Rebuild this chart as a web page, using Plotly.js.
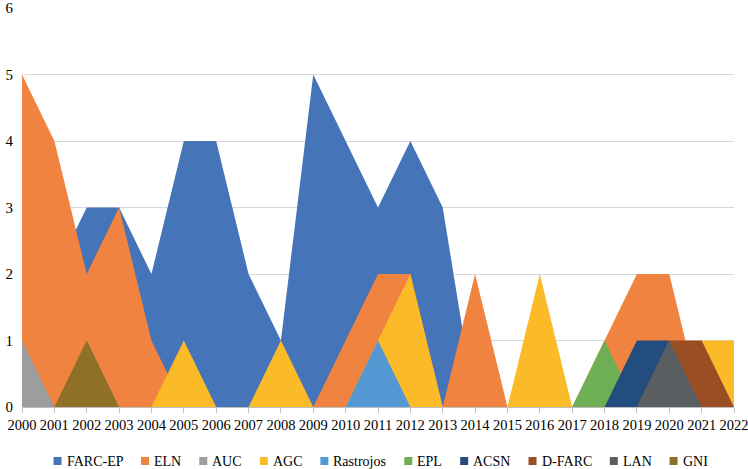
<!DOCTYPE html>
<html>
<head>
<meta charset="utf-8">
<script src="https://cdn.plot.ly/plotly-3.0.1.min.js"></script>
</head>
<body style="margin:0">
<div id="chart" style="width:748px;height:469px"></div>
<script>
// years on the x axis
var years = [2000,2001,2002,2003,2004,2005,2006,2007,2008,2009,2010,2011,
             2012,2013,2014,2015,2016,2017,2018,2019,2020,2021,2022];

// counts per group
var farcEp    = [2,2,3,3,2,4,4,2,1,5,4,3,4,3,0,0,0,0,0,0,0,0,0];
var eln       = [5,4,2,3,1,0,0,0,0,0,1,2,2,0,2,0,0,0,1,2,2,0,0];
var auc       = [1,0,0,0,0,0,0,0,0,0,0,0,0,0,0,0,0,0,0,0,0,0,0];
var agc       = [0,0,0,0,0,1,0,0,1,0,0,1,2,0,0,0,2,0,0,0,0,1,1];
var rastrojos = [0,0,0,0,0,0,0,0,0,0,0,1,0,0,0,0,0,0,0,0,0,0,0];
var epl       = [0,0,0,0,0,0,0,0,0,0,0,0,0,0,0,0,0,0,1,0,0,0,0];
var acsn      = [0,0,0,0,0,0,0,0,0,0,0,0,0,0,0,0,0,0,0,1,1,0,0];
var dFarc     = [0,0,0,0,0,0,0,0,0,0,0,0,0,0,0,0,0,0,0,0,1,1,0];
var lan       = [0,0,0,0,0,0,0,0,0,0,0,0,0,0,0,0,0,0,0,0,1,0,0];
var gni       = [0,0,1,0,0,0,0,0,0,0,0,0,0,0,0,0,0,0,0,0,0,0,0];

var names  = ["FARC-EP","ELN","AUC","AGC","Rastrojos","EPL","ACSN","D-FARC","LAN","GNI"];
var series = [farcEp, eln, auc, agc, rastrojos, epl, acsn, dFarc, lan, gni];
var colors = ["#4674B8","#F0833F","#9B9D9E","#FBBB29","#5498D3",
              "#6EAF55","#234D7F","#994E24","#5B5E60","#8E7026"];

var W = 748, H = 469;
var mar = {l: 22, r: 14, t: 8, b: 62};
var plotW = W - mar.l - mar.r;
var plotH = H - mar.t - mar.b;
var serif = "Times New Roman";

var data = [];
for (var i = 0; i < series.length; i++) {
    data.push({
        x: years,
        y: series[i],
        name: names[i],
        type: "scatter",
        mode: "lines",
        fill: "tozeroy",
        fillcolor: colors[i],
        line: {width: 0, color: colors[i]},
        showlegend: false
    });
}

// legend drawn by hand so it stays on one row like the original
var legFont = 14;
var ctx = document.createElement("canvas").getContext("2d");
ctx.font = legFont + "px 'Times New Roman'";
var sq = 8, sqGap = 4, itemGap = 19;
var widths = names.map(function(n){ return ctx.measureText(n).width; });
var total = 0;
widths.forEach(function(w, k){ total += sq + sqGap + w + (k < widths.length-1 ? itemGap : 0); });
var startPx = 380 - total/2;
var legCy = 461;
function px2x(px){ return (px - mar.l) / plotW; }
function py2y(py){ return (H - mar.b - py) / plotH; }

var shapes = [], annotations = [];
var cur = startPx;
for (var k = 0; k < names.length; k++) {
    shapes.push({
        type: "rect", xref: "paper", yref: "paper",
        x0: px2x(cur), x1: px2x(cur + sq),
        y0: py2y(legCy + sq/2), y1: py2y(legCy - sq/2),
        fillcolor: colors[k], line: {width: 0}
    });
    annotations.push({
        xref: "paper", yref: "paper",
        x: px2x(cur + sq + sqGap - 1), y: py2y(legCy),
        xanchor: "left", yanchor: "middle",
        text: names[k], showarrow: false,
        font: {family: serif, size: legFont, color: "#000"}
    });
    cur += sq + sqGap + widths[k] + itemGap;
}

var layout = {
    width: W,
    height: H,
    margin: mar,
    font: {family: serif, size: 15, color: "#000"},
    showlegend: false,
    shapes: shapes,
    annotations: annotations,
    xaxis: {
        type: "linear",
        range: [2000, 2022],
        tickmode: "linear",
        tick0: 2000,
        dtick: 1,
        tickangle: 0,
        showgrid: false,
        zeroline: false,
        showline: true,
        linecolor: "#BFBFBF",
        linewidth: 1,
        ticks: "outside",
        ticklen: 5,
        tickcolor: "#BFBFBF",
        ticklabeloverflow: "allow",
        tickfont: {size: 14.5}
    },
    yaxis: {
        range: [0, 6],
        tickmode: "linear",
        dtick: 1,
        showgrid: true,
        gridcolor: "#D9D9D9",
        gridwidth: 1,
        zeroline: false,
        showline: false,
        ticks: "",
        ticklabelstandoff: 8,
        ticklabeloverflow: "allow"
    }
};

Plotly.newPlot("chart", data, layout, {staticPlot: true});
</script>
</body>
</html>
